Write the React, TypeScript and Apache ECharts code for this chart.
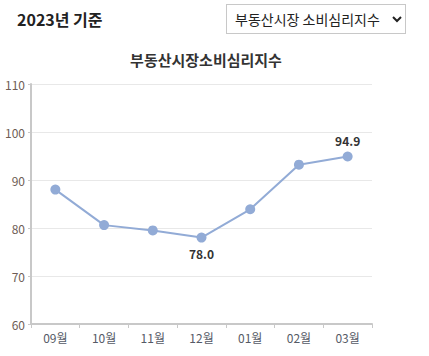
import React, { useEffect, useRef } from "react";
import * as echarts from "echarts";

const categories = ["09월", "10월", "11월", "12월", "01월", "02월", "03월"];
const values = [88.0, 80.6, 79.5, 78.0, 83.9, 93.2, 94.9];
const yMin = 60;
const yMax = 110;
const yInterval = 10;
const headerTitle = "2023년 기준";
const chartTitle = "부동산시장소비심리지수";
const selectOptions = ["부동산시장 소비심리지수"];

const FONT = "'Noto Sans CJK KR', 'Noto Sans', sans-serif";

export default function App() {
  const ref = useRef<HTMLDivElement>(null);

  useEffect(() => {
    document.body.style.margin = "0";
    const chart = echarts.init(ref.current!, null, { renderer: "svg" });
    const maxV = Math.max(...values);
    const minV = Math.min(...values);
    chart.setOption({
      animation: false,
      textStyle: { fontFamily: FONT },
      title: [
        {
          text: headerTitle,
          left: 12,
          top: 6,
          textStyle: { fontSize: 16, fontWeight: "bold", color: "#222", fontFamily: FONT },
        },
        {
          text: chartTitle,
          left: 201,
          textAlign: "center",
          top: 47,
          textStyle: { fontSize: 15, fontWeight: "bold", color: "#333", fontFamily: FONT },
        },
      ],
      grid: { left: 31, right: 57, top: 84, bottom: 32, containLabel: false },
      xAxis: {
        type: "category",
        data: categories,
        boundaryGap: true,
        axisLine: { lineStyle: { color: "#c8c8c8", width: 2 } },
        axisTick: { show: true, length: 4, lineStyle: { color: "#c8c8c8", width: 1 } },
        axisLabel: { color: "#555a66", fontSize: 12, margin: 7, fontFamily: FONT },
        splitLine: { show: false },
      },
      yAxis: {
        type: "value",
        min: yMin,
        max: yMax,
        interval: yInterval,
        axisLine: { show: true, lineStyle: { color: "#c8c8c8", width: 2 } },
        axisTick: { show: true, length: 3, lineStyle: { color: "#c8c8c8" } },
        axisLabel: { color: "#6e5d55", fontSize: 12, margin: 6, fontFamily: FONT },
        splitLine: { show: true, lineStyle: { color: "#e8e8e8", width: 1 } },
      },
      series: [
        {
          type: "line",
          data: values.map((v) => ({
            value: v,
            label: {
              show: v === maxV || v === minV,
              position: v === maxV ? "top" : "bottom",
              distance: 5,
              formatter: (p: any) => Number(p.value).toFixed(1),
              fontSize: 12,
              fontWeight: "bold",
              color: "#333",
              fontFamily: FONT,
            },
          })),
          symbol: "circle",
          symbolSize: 10,
          itemStyle: { color: "#92abd6" },
          lineStyle: { color: "#92abd6", width: 2 },
        },
      ],
    });
    return () => chart.dispose();
  }, []);

  return (
    <div style={{ position: "relative", width: 429, height: 356, background: "#fff" }}>
      <div ref={ref} style={{ position: "absolute", left: 0, top: 0, width: 429, height: 356 }} />
      <select
        defaultValue={selectOptions[0]}
        style={{
          position: "absolute",
          left: 226,
          top: 4,
          width: 180,
          height: 30,
          fontSize: 14,
          fontFamily: FONT,
          color: "#222",
          background: "#fff",
          border: "1px solid #c8c8c8",
          borderRadius: 0,
          padding: "0 4px",
        }}
      >
        {selectOptions.map((o) => (
          <option key={o} value={o}>
            {o}
          </option>
        ))}
      </select>
    </div>
  );
}
